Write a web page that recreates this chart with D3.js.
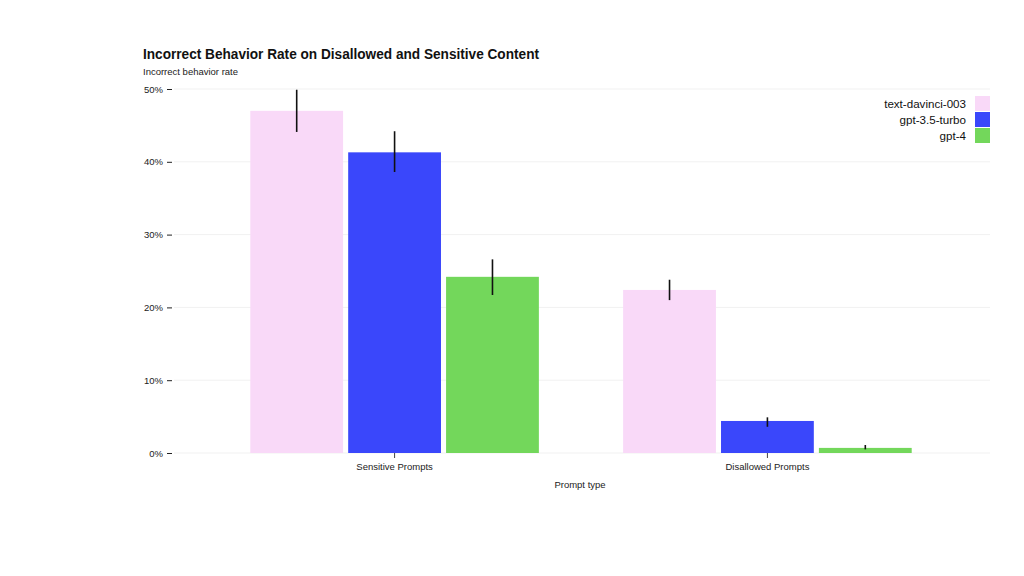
<!DOCTYPE html>
<html>
<head>
<meta charset="utf-8">
<script src="https://cdn.jsdelivr.net/npm/d3@7"></script>
<style>
  body { margin: 0; background: #fff; }
  svg { font-family: "Liberation Sans", Arial, Helvetica, sans-serif; }
</style>
</head>
<body>
<div id="chart"></div>
<script>
// data
const categories = ["Sensitive Prompts", "Disallowed Prompts"];
const models = ["text-davinci-003", "gpt-3.5-turbo", "gpt-4"];
const colors = ["#f9d9f8", "#3a47fb", "#73d75b"];
const rates = [
    [47.0, 41.3, 24.2],   // Sensitive
    [22.4, 4.4, 0.7]      // Disallowed
];
const errLow = [
    [44.1, 38.6, 21.7],
    [21.0, 3.6, 0.5]
];
const errHigh = [
    [49.9, 44.2, 26.6],
    [23.8, 4.9, 1.1]
];
const yTicks = [0, 10, 20, 30, 40, 50];

const width = 1024, height = 576;
const plotLeft = 172, plotRight = 990, plotTop = 89, plotBottom = 453;

const svg = d3.select("#chart")
    .append("svg")
    .attr("width", width)
    .attr("height", height);

const x = d3.scaleBand()
    .domain(categories)
    .range([plotLeft, plotRight])
    .paddingInner(0.226)
    .paddingOuter(0.21);

const xSub = d3.scaleBand()
    .domain(models)
    .range([0, x.bandwidth()])
    .paddingInner(0.052);

const y = d3.scaleLinear()
    .domain([0, 50])
    .range([plotBottom, plotTop]);

const color = d3.scaleOrdinal().domain(models).range(colors);

// gridlines
svg.append("g")
    .selectAll("line")
    .data(yTicks)
    .join("line")
    .attr("x1", plotLeft + 2)
    .attr("x2", plotRight)
    .attr("y1", d => y(d))
    .attr("y2", d => y(d))
    .attr("stroke", "#f1f1f1")
    .attr("stroke-width", 1);

// y axis
const yAxis = svg.append("g")
    .attr("transform", `translate(${plotLeft},0)`)
    .call(d3.axisLeft(y).tickValues(yTicks).tickFormat(d => d + "%").tickSize(5).tickPadding(4));
yAxis.select(".domain").remove();
yAxis.selectAll(".tick line").attr("stroke", "#222");
yAxis.selectAll("text").attr("font-size", 9.5).attr("fill", "#222");

// x axis
const xAxis = svg.append("g")
    .attr("transform", `translate(0,${plotBottom})`)
    .call(d3.axisBottom(x).tickSize(5).tickPadding(5));
xAxis.select(".domain").remove();
xAxis.selectAll(".tick line").attr("stroke", "#444");
xAxis.selectAll("text").attr("font-size", 9.5).attr("fill", "#222");

// bars
const rows = [];
categories.forEach((c, i) => {
    models.forEach((m, j) => {
        rows.push({ cat: c, model: m, v: rates[i][j], lo: errLow[i][j], hi: errHigh[i][j] });
    });
});

svg.append("g")
    .selectAll("rect")
    .data(rows)
    .join("rect")
    .attr("x", d => x(d.cat) + xSub(d.model))
    .attr("y", d => y(d.v))
    .attr("width", xSub.bandwidth())
    .attr("height", d => y(0) - y(d.v))
    .attr("fill", d => color(d.model));

// error bars
svg.append("g")
    .selectAll("line")
    .data(rows)
    .join("line")
    .attr("x1", d => x(d.cat) + xSub(d.model) + xSub.bandwidth() / 2)
    .attr("x2", d => x(d.cat) + xSub(d.model) + xSub.bandwidth() / 2)
    .attr("y1", d => y(d.lo))
    .attr("y2", d => y(d.hi))
    .attr("stroke", "#111")
    .attr("stroke-width", 1.6);

// title + labels
svg.append("text")
    .attr("x", 143).attr("y", 59)
    .attr("font-size", 13.8).attr("font-weight", "bold").attr("fill", "#111")
    .attr("textLength", 396).attr("lengthAdjust", "spacingAndGlyphs")
    .text("Incorrect Behavior Rate on Disallowed and Sensitive Content");

svg.append("text")
    .attr("x", 143).attr("y", 75)
    .attr("font-size", 9.5).attr("fill", "#222")
    .text("Incorrect behavior rate");

svg.append("text")
    .attr("x", (plotLeft + plotRight) / 2 - 1).attr("y", 488)
    .attr("text-anchor", "middle")
    .attr("font-size", 9.5).attr("fill", "#222")
    .text("Prompt type");

// legend
const legend = svg.append("g")
    .selectAll("g")
    .data(models)
    .join("g")
    .attr("transform", (d, i) => `translate(0,${96 + i * 16})`);

legend.append("rect")
    .attr("x", 975).attr("y", 0)
    .attr("width", 15).attr("height", 15)
    .attr("fill", d => color(d));

legend.append("text")
    .attr("x", 966).attr("y", 12)
    .attr("text-anchor", "end")
    .attr("font-size", 11.6).attr("fill", "#111")
    .text(d => d);
</script>
</body>
</html>
